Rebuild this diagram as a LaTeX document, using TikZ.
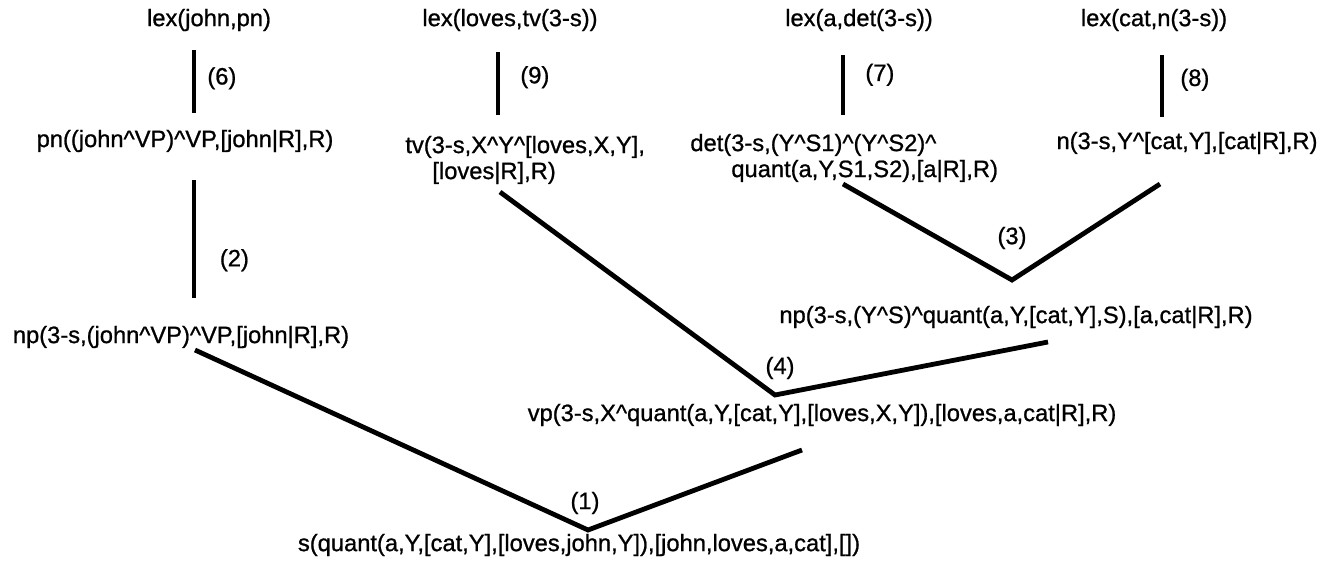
\documentclass[tikz,border=0pt]{standalone}
\usepackage{fontspec}
\setmainfont{Liberation Sans}
\newfontfamily\termfont[FakeBold=0.9]{Liberation Sans}
\usetikzlibrary{positioning}
\tikzset{
  term/.style={inner sep=0pt, font=\termfont\fontsize{11.85}{13}\selectfont},
  rulelbl/.style={inner sep=0pt, font=\termfont\fontsize{11.85}{13}\selectfont},
  link/.style={line width=2.4pt},
}
\newcommand{\HAT}{\textasciicircum}

\begin{document}
\begin{tikzpicture}[x=0.5pt, y=-0.5pt]
  \useasboundingbox (0,0) rectangle (1334,562);

  % Top row: lexical entries
  \node[term] (lexjohn)  at (209,20)  {lex(john,pn)};
  \node[term] (lexloves) at (510,20)  {lex(loves,tv(3-s))};
  \node[term] (lexa)     at (859,20)  {lex(a,det(3-s))};
  \node[term] (lexcat)   at (1154,20) {lex(cat,n(3-s))};

  % Second row: categories from the lexicon
  \node[term] (pn) at (185,141) {pn((john\HAT VP)\HAT VP,[john|R],R)};
  \node[term, anchor=west, align=left] (tv) at (405,160)
    {tv(3-s,X\HAT Y\HAT[loves,X,Y],\\ \hspace*{13.5pt}[loves|R],R)};
  \node[term, anchor=west, align=left] (det) at (690,158)
    {det(3-s,(Y\HAT S1)\HAT(Y\HAT S2)\HAT\\ \hspace*{20.5pt}quant(a,Y,S1,S2),[a|R],R)};
  \node[term] (n) at (1187,143) {n(3-s,Y\HAT[cat,Y],[cat|R],R)};

  % Phrases
  \node[term] (npjohn) at (181,337) {np(3-s,(john\HAT VP)\HAT VP,[john|R],R)};
  \node[term] (npcat) at (1016,317)
    {np(3-s,(Y\HAT S)\HAT quant(a,Y,[cat,Y],S),[a,cat|R],R)};
  \node[term] (vp) at (822,415)
    {vp(3-s,X\HAT quant(a,Y,[cat,Y],[loves,X,Y]),[loves,a,cat|R],R)};
  \node[term] (s) at (579,545)
    {s(quant(a,Y,[cat,Y],[loves,john,Y]),[john,loves,a,cat],[])};

  % Unary steps
  \coordinate (a6) at (194,50);   \coordinate (b6) at (194,113);
  \coordinate (a2) at (194,180);  \coordinate (b2) at (194,298);
  \coordinate (a9) at (498,52);   \coordinate (b9) at (498,115);
  \coordinate (a7) at (843,55);   \coordinate (b7) at (843,115);
  \coordinate (a8) at (1162,55);  \coordinate (b8) at (1162,117);
  \draw[link] (a6) -- node[rulelbl, pos=0.45, right=5.5pt] (r6) {(6)} (b6);
  \draw[link] (a2) -- node[rulelbl, pos=0.68, right=11.75pt] (r2) {(2)} (b2);
  \draw[link] (a9) -- node[rulelbl, pos=0.4, right=10pt] (r9) {(9)} (b9);
  \draw[link] (a7) -- node[rulelbl, pos=0.33, right=10pt] (r7) {(7)} (b7);
  \draw[link] (a8) -- node[rulelbl, pos=0.4, right=8pt] (r8) {(8)} (b8);

  % Binary steps
  \coordinate (l3) at (843,184);  \coordinate (j3) at (1012,280); \coordinate (r3) at (1160,184);
  \coordinate (l4) at (500,192);  \coordinate (j4) at (775,395);  \coordinate (r4) at (1048,342);
  \coordinate (l1) at (195,350);  \coordinate (j1) at (588,530);  \coordinate (r1) at (802,450);
  \draw[link] (l3) -- (j3) -- (r3);
  \draw[link] (l4) -- (j4) -- (r4);
  \draw[link] (l1) -- (j1) -- (r1);
  \node[rulelbl] (k3) at (1012,238) {(3)};
  \node[rulelbl] (k4) at (780,368)  {(4)};
  \node[rulelbl] (k1) at (585,503)  {(1)};
\end{tikzpicture}
\end{document}
